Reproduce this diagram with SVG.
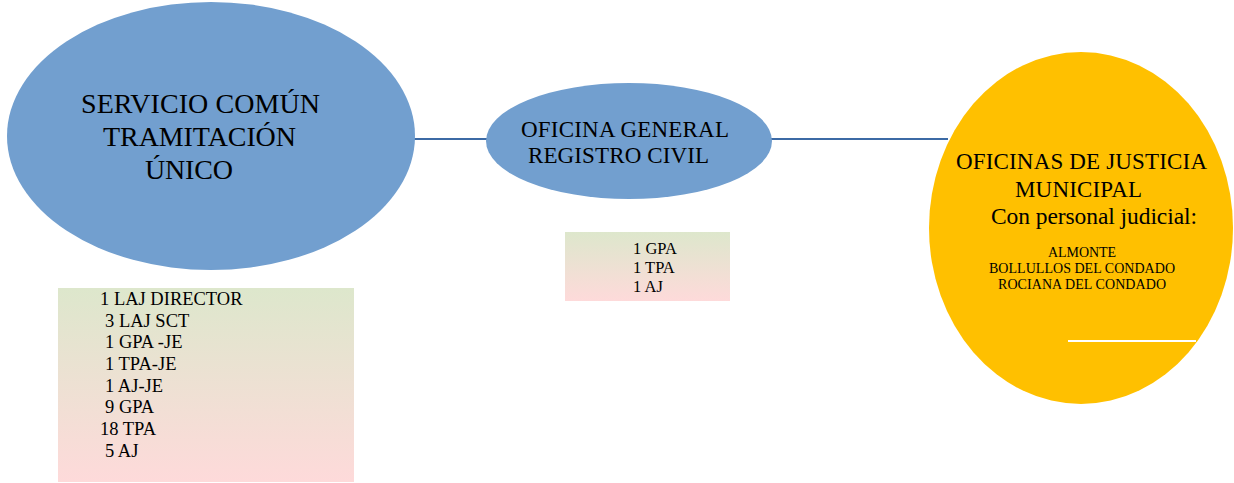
<svg xmlns="http://www.w3.org/2000/svg" width="1234" height="483" viewBox="0 0 1234 483">
<defs>
<linearGradient id="g" x1="0" y1="0" x2="0" y2="1">
<stop offset="0" stop-color="#dde7cc"/>
<stop offset="1" stop-color="#fedada"/>
</linearGradient>
<style>
.t{font-family:"Liberation Serif","Times New Roman",serif;fill:#000}
.blue{fill:#729fcf}
.box{fill:url(#g)}
.conn{stroke:#3c6aa5;stroke-width:2.2;fill:none}
</style>
</defs>
<rect width="1234" height="483" fill="#fff"/>
<g id="connectors">
<line class="conn" x1="414" y1="139" x2="488" y2="139"/>
<line class="conn" x1="770" y1="139" x2="948" y2="139"/>
</g>
<g id="servicio">
<ellipse class="blue" cx="211" cy="136" rx="204" ry="134"/>
<text class="t" font-size="28"><tspan x="81" y="113" textLength="239">SERVICIO COMÚN</tspan><tspan x="103" y="146" textLength="193">TRAMITACIÓN</tspan><tspan x="145" y="179" textLength="88">ÚNICO</tspan></text>
</g>
<g id="oficina-general">
<ellipse class="blue" cx="629" cy="141" rx="143" ry="58"/>
<text class="t" font-size="23"><tspan x="521" y="137" textLength="208">OFICINA GENERAL</tspan><tspan x="528" y="163" textLength="181">REGISTRO CIVIL</tspan></text>
</g>
<g id="oficinas-justicia">
<ellipse cx="1081" cy="228" rx="152" ry="176" fill="#ffc000"/>
<text class="t" font-size="23"><tspan x="956" y="169" textLength="251">OFICINAS DE JUSTICIA</tspan><tspan x="1015" y="197" textLength="127">MUNICIPAL</tspan></text>
<text class="t" font-size="23.5" x="991" y="224" textLength="206">Con personal judicial:</text>
<text class="t" font-size="14"><tspan x="1048" y="257" textLength="68">ALMONTE</tspan><tspan x="989" y="273" textLength="186">BOLLULLOS DEL CONDADO</tspan><tspan x="998" y="289" textLength="168">ROCIANA DEL CONDADO</tspan></text>
<line x1="1068" y1="341" x2="1196" y2="341" stroke="#fff" stroke-width="2"/>
</g>
<g id="box-servicio">
<rect class="box" x="58" y="288" width="296" height="194"/>
<text class="t" font-size="18.5"><tspan x="100" y="305">1 LAJ DIRECTOR</tspan><tspan x="105" y="327">3 LAJ SCT</tspan><tspan x="105" y="348">1 GPA -JE</tspan><tspan x="105" y="370">1 TPA-JE</tspan><tspan x="105" y="392">1 AJ-JE</tspan><tspan x="105" y="413">9 GPA</tspan><tspan x="100" y="435">18 TPA</tspan><tspan x="105" y="457">5 AJ</tspan></text>
</g>
<g id="box-registro">
<rect class="box" x="565" y="232" width="165" height="69"/>
<text class="t" font-size="16.5"><tspan x="633" y="254">1 GPA</tspan><tspan x="633" y="273">1 TPA</tspan><tspan x="633" y="292">1 AJ</tspan></text>
</g>
</svg>
